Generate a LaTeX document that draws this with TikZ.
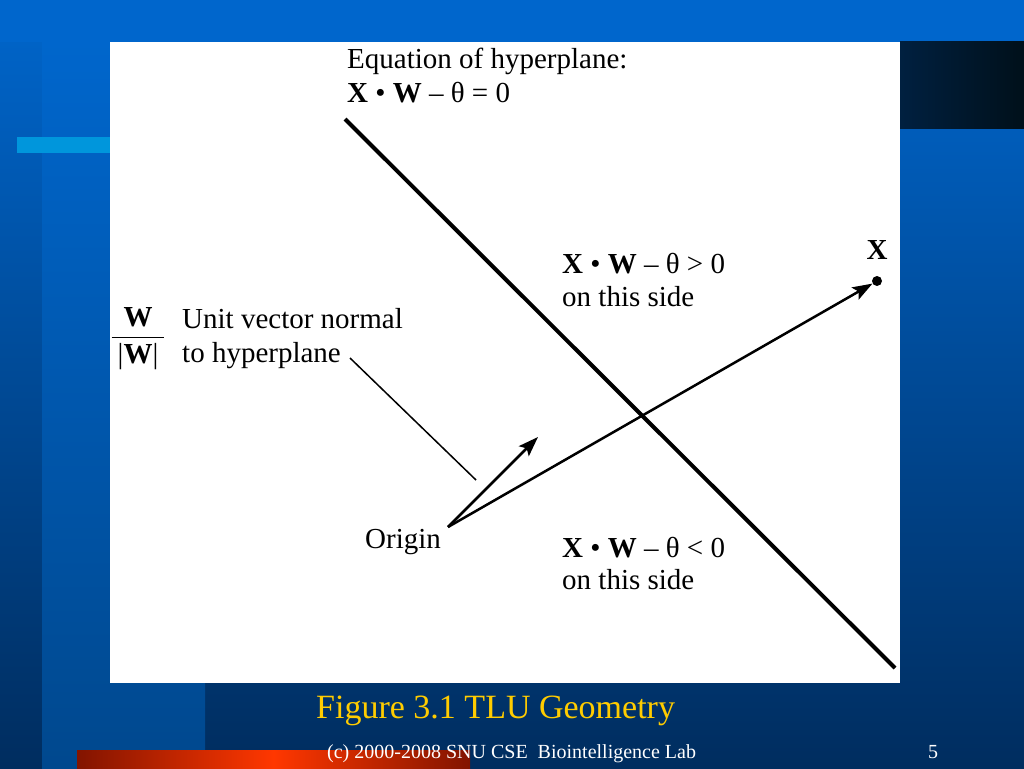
\documentclass[tikz,border=0pt]{standalone}
\usepackage{fontspec}
\usepackage{amsmath}
\setmainfont{Liberation Serif}
\usetikzlibrary{arrows.meta}
\definecolor{slideblue}{RGB}{0,102,204}
\definecolor{slidenavy}{RGB}{0,45,95}
\definecolor{stripblue}{RGB}{0,72,142}
\definecolor{barblue}{RGB}{0,150,220}
\definecolor{cornerdark}{RGB}{0,32,64}
\definecolor{cornerblack}{RGB}{0,16,26}
\definecolor{barred}{RGB}{130,20,0}
\definecolor{barorange}{RGB}{255,55,0}
\definecolor{titleyellow}{RGB}{255,204,0}
\tikzstyle{figtext}=[inner sep=0pt, font=\fontsize{29}{33}\selectfont]
\tikzstyle{xpoint}=[circle, fill, inner sep=0pt, minimum size=10pt]
\tikzstyle{vecarrow}=[draw=black, line width=2.5pt, -{Stealth[length=20pt,width=14pt,inset=4pt]}]
\tikzstyle{hyperline}=[draw=black, line width=4pt]
\tikzstyle{leader}=[draw=black, line width=1.5pt]
\begin{document}
\begin{tikzpicture}[x=1pt,y=-1pt]
		   \useasboundingbox (0,0) rectangle (1024,768);
		   \begin{scope}
			   \shade[top color=slideblue, bottom color=slidenavy] (0,0) rectangle (1024,768);
			   \shade[top color=slideblue, bottom color=stripblue] (42,42) rectangle (205,768);
			   \fill[slideblue] (0,0) rectangle (1024,42);
			   \shade[left color=cornerdark, right color=cornerblack] (900,42) rectangle (1024,128);
			   \fill[barblue] (17,137) rectangle (110,153);
			   \shade[left color=barred, right color=barred, middle color=barorange] (77,750) rectangle (470,768);
			   \fill[white] (110,42) rectangle (900,683);
		   \end{scope}
		   \begin{scope}
			   \coordinate (hpa) at (345,119);
			   \coordinate (hpb) at (895,668);
			   \coordinate (origin) at (448,527);
			   \coordinate (unittip) at (538,437);
			   \coordinate (leadstart) at (350,358);
			   \coordinate (leadend) at (476,480);
			   \node (xdot) at (877,281)[xpoint] {};
			   \node (xlabel) at (877,259)[figtext, anchor=base] {\textbf{X}};
			   \node (eqtitle) at (347,68)[figtext, anchor=base west] {Equation of hyperplane:};
			   \node (eqzero) at (347,102)[figtext, anchor=base west] {\textbf{X} • \textbf{W} – θ = 0};
			   \node (eqpos) at (562,273)[figtext, anchor=base west] {\textbf{X} • \textbf{W} – θ > 0};
			   \node (sidepos) at (562,306)[figtext, anchor=base west] {on this side};
			   \node (eqneg) at (562,557)[figtext, anchor=base west] {\textbf{X} • \textbf{W} – θ < 0};
			   \node (sideneg) at (562,589)[figtext, anchor=base west] {on this side};
			   \node (unitfrac) at (138,339)[figtext] {$\genfrac{}{}{1.8pt}{0}{\text{\textbf{W}}}{\text{\hspace{6pt}|\textbf{W}|\hspace{6pt}}}$};
			   \node (unita) at (182,328)[figtext, anchor=base west] {Unit vector normal};
			   \node (unitb) at (182,362)[figtext, anchor=base west] {to hyperplane};
			   \node (originlabel) at (365,548)[figtext, anchor=base west] {Origin};
			   \node (figcaption) at (316,718)[inner sep=0pt, anchor=base west, text=titleyellow, font=\fontsize{34}{40}\selectfont] {Figure 3.1 TLU Geometry};
			   \node (footer) at (327,758)[inner sep=0pt, anchor=base west, text=white, font=\fontsize{20}{24}\selectfont] {(c) 2000-2008 SNU CSE\ \ Biointelligence Lab};
			   \node (pagenum) at (928,758)[inner sep=0pt, anchor=base west, text=white, font=\fontsize{20}{24}\selectfont] {5};
		   \end{scope}
		   \begin{scope}
			   \path [hyperline] (hpa) -- (hpb);
			   \path [vecarrow] (origin) -- (xdot);
			   \path [vecarrow] (origin) -- (unittip);
			   \path [leader] (leadstart) -- (leadend);
		   \end{scope}
	   \end{tikzpicture}
\end{document}
